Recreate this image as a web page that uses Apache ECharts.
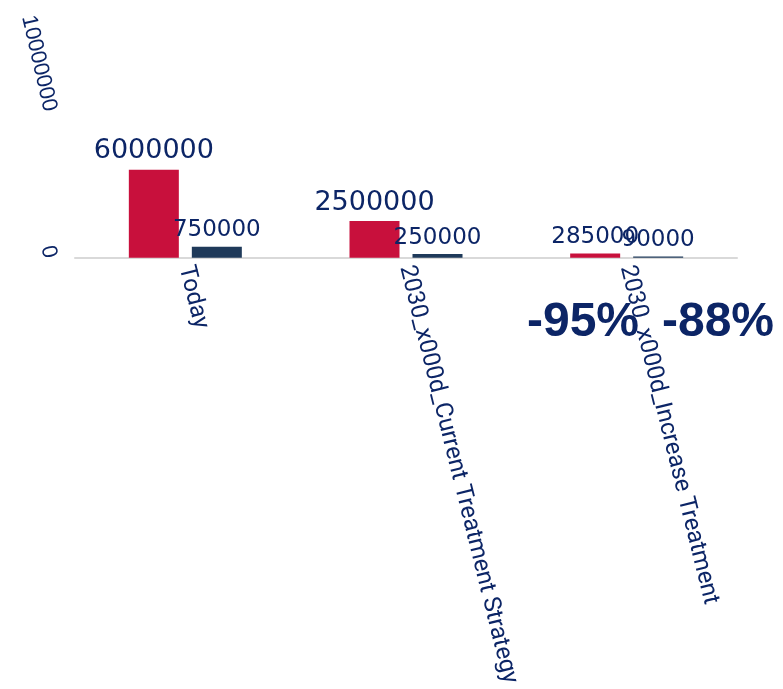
<!DOCTYPE html>
<html>
<head>
<meta charset="utf-8">
<script src="https://cdn.jsdelivr.net/npm/echarts@6/dist/echarts.min.js"></script>
<style>
  html, body { margin: 0; padding: 0; background: #ffffff; }
  #chart { width: 783px; height: 689px; }
</style>
</head>
<body>
<div id="chart"></div>
<script>
// Chart data
const categories = ['Today', '2030_x000d_Current Treatment Strategy', '2030_x000d_Increase Treatment'];
const primaryValues = [6000000, 2500000, 285000];
const secondaryValues = [750000, 250000, 90000];
const yTickValues = [0, 10000000];

// Percentage change from the first to the last category, per series
function changeLabel(values) {
  const pct = Math.round((values[values.length - 1] / values[0] - 1) * 100);
  return pct + '%';
}

const NAVY_TEXT = '#0c2566';
const RED = '#c8103c';
const NAVY_BAR = '#1f3a5a';

function valueLabel(v) {
  return {
    value: v,
    label: { fontSize: v >= 1000000 ? 27 : 23 }
  };
}

const chart = echarts.init(document.getElementById('chart'), null, { renderer: 'canvas' });

chart.setOption({
  animation: false,
  backgroundColor: '#ffffff',
  grid: { left: 75, right: 46, top: 111, bottom: 429.5, containLabel: false },
  xAxis: {
    type: 'category',
    data: categories,
    axisLine: { show: true, lineStyle: { color: '#d9d9d9', width: 2 } },
    axisTick: { show: false },
    axisLabel: {
      rotate: -76,
      margin: 8,
      interval: 0,
      color: NAVY_TEXT,
      fontFamily: 'Roboto',
      fontSize: 24
    }
  },
  yAxis: {
    type: 'value',
    min: yTickValues[0],
    max: yTickValues[yTickValues.length - 1],
    interval: yTickValues[1] - yTickValues[0],
    axisLine: { show: false },
    axisTick: { show: false },
    splitLine: { show: false },
    axisLabel: {
      rotate: -77,
      margin: 25,
      color: NAVY_TEXT,
      fontFamily: 'Liberation Sans',
      fontSize: 22,
      formatter: function (v) { return String(v); }
    }
  },
  series: [
    {
      name: 'primary',
      type: 'bar',
      barWidth: 50,
      barGap: '26%',
      itemStyle: { color: RED },
      label: {
        show: true,
        position: 'top',
        distance: 5,
        color: NAVY_TEXT,
        fontFamily: 'DejaVu Sans'
      },
      data: primaryValues.map(valueLabel)
    },
    {
      name: 'secondary',
      type: 'bar',
      barWidth: 50,
      barGap: '26%',
      itemStyle: { color: NAVY_BAR },
      label: {
        show: true,
        position: 'top',
        distance: 5,
        color: NAVY_TEXT,
        fontFamily: 'DejaVu Sans'
      },
      data: secondaryValues.map(valueLabel)
    }
  ],
  graphic: [
    {
      type: 'text',
      x: 583, y: 323,
      style: {
        text: changeLabel(primaryValues),
        fill: NAVY_TEXT,
        font: 'bold 48px "Liberation Sans", Arial, sans-serif',
        textAlign: 'center',
        textVerticalAlign: 'middle'
      }
    },
    {
      type: 'text',
      x: 718, y: 323,
      style: {
        text: changeLabel(secondaryValues),
        fill: NAVY_TEXT,
        font: 'bold 48px "Liberation Sans", Arial, sans-serif',
        textAlign: 'center',
        textVerticalAlign: 'middle'
      }
    }
  ]
});
</script>
</body>
</html>
